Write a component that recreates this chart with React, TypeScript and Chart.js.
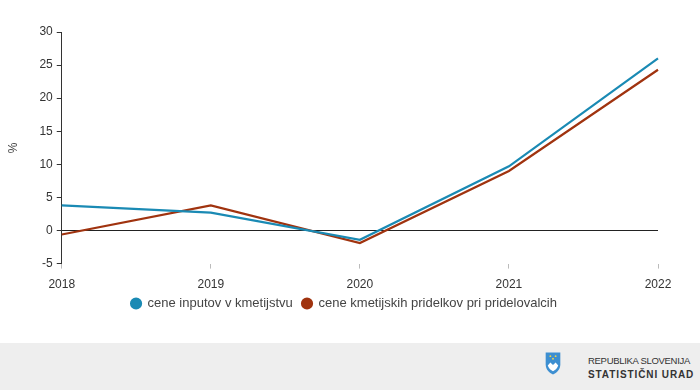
import React, { useEffect, useRef } from "react";
import { Chart, registerables } from "chart.js";

Chart.register(...registerables);

const years = ["2018", "2019", "2020", "2021", "2022"];
const inputPrices = [3.8, 2.7, -1.4, 9.7, 26.0];
const producerPrices = [-0.6, 3.8, -1.9, 9.0, 24.3];
const seriesNames = ["cene inputov v kmetijstvu", "cene kmetijskih pridelkov pri pridelovalcih"];
const blue = "#1a8ab4";
const red = "#a0330f";
const FONT = "'Liberation Sans', Arial, sans-serif";

const legendShift = {
  id: "legendShift",
  afterLayout(chart: any) {
    const lg = chart.legend;
    if (!lg) return;
    lg.left += 13;
    lg.right += 13;
    lg.top -= 6;
    lg.bottom -= 6;
  },
};

export default function App() {
  const ref = useRef<HTMLCanvasElement | null>(null);
  useEffect(() => {
    document.body.style.margin = "0";
    const ctx = ref.current!;
    const chart = new Chart(ctx, {
      type: "line",
      data: {
        labels: years,
        datasets: [
          { label: seriesNames[0], data: inputPrices, borderColor: blue, backgroundColor: blue, borderWidth: 2.2, pointRadius: 0, tension: 0 },
          { label: seriesNames[1], data: producerPrices, borderColor: red, backgroundColor: red, borderWidth: 2.2, pointRadius: 0, tension: 0 },
        ],
      },
      plugins: [legendShift],
      options: {
        responsive: false,
        animation: false,
        layout: { padding: { top: 32, right: 42, left: 4, bottom: 17 } },
        plugins: {
          tooltip: { enabled: false },
          legend: {
            position: "bottom",
            labels: {
              usePointStyle: true,
              pointStyle: "circle",
              pointStyleWidth: 10,
              boxWidth: 10,
              boxHeight: 7,
              padding: 2,
              color: "#444",
              font: { family: FONT, size: 13 },
              generateLabels: (ch: any) => {
                const items = Chart.defaults.plugins.legend.labels.generateLabels(ch);
                return items.map((it: any, i: number) => (i === 0 ? { ...it, text: it.text + "\u00a0\u00a0" } : it));
              },
            },
          },
        },
        scales: {
          x: {
            offset: false,
            grid: { display: true, drawOnChartArea: false, drawTicks: true, tickLength: 5, tickColor: "#bbb" },
            border: { display: false },
            ticks: { color: "#333", padding: 9, maxRotation: 0, font: { family: FONT, size: 12 } },
          },
          y: {
            min: -5,
            max: 30,
            ticks: { stepSize: 5, color: "#333", padding: 4, font: { family: FONT, size: 12 } },
            grid: {
              color: (c: any) => (c.tick && c.tick.value === 0 ? "#222" : "rgba(0,0,0,0)"),
              lineWidth: 1,
              tickColor: "#333",
              tickLength: 5,
            },
            border: { display: true, color: "#333", width: 1 },
            title: { display: true, text: "%", color: "#444", padding: { top: 2, bottom: 15 }, font: { family: FONT, size: 12 } },
          },
        },
      },
    });
    return () => chart.destroy();
  }, []);
  return (
    <div style={{ width: 700, height: 390, background: "#fff", position: "relative", overflow: "hidden" }}>
      <canvas ref={ref} width={700} height={343} style={{ display: "block" }} />
      <div style={{ position: "absolute", left: 0, top: 343, width: 700, height: 47, background: "#eeeeee" }}>
        <svg width="16" height="23" viewBox="0 0 15 22" style={{ position: "absolute", left: 545, top: 9 }}>
          <path d="M0.5 0.5 H14.5 V12 C14.5 17 11 20 7.5 21.5 C4 20 0.5 17 0.5 12 Z" fill="#3d8fd1" />
          <path d="M2.5 13 L5 10 L7.5 12.5 L10 10 L12.5 13 C11.5 16 9.5 17.5 7.5 18.5 C5.5 17.5 3.5 16 2.5 13 Z" fill="#fff" />
          <circle cx="5" cy="4" r="0.9" fill="#f3d34a" />
          <circle cx="10" cy="4" r="0.9" fill="#f3d34a" />
          <circle cx="7.5" cy="6.5" r="0.9" fill="#f3d34a" />
        </svg>
        <div style={{ position: "absolute", left: 588, top: 11, fontFamily: FONT, color: "#333", lineHeight: "14px", whiteSpace: "nowrap" }}>
          <div style={{ fontSize: 9.5, letterSpacing: -0.3 }}>REPUBLIKA SLOVENIJA</div>
          <div style={{ fontSize: 10, fontWeight: "bold", letterSpacing: 0.9 }}>STATISTIČNI URAD</div>
        </div>
      </div>
    </div>
  );
}
